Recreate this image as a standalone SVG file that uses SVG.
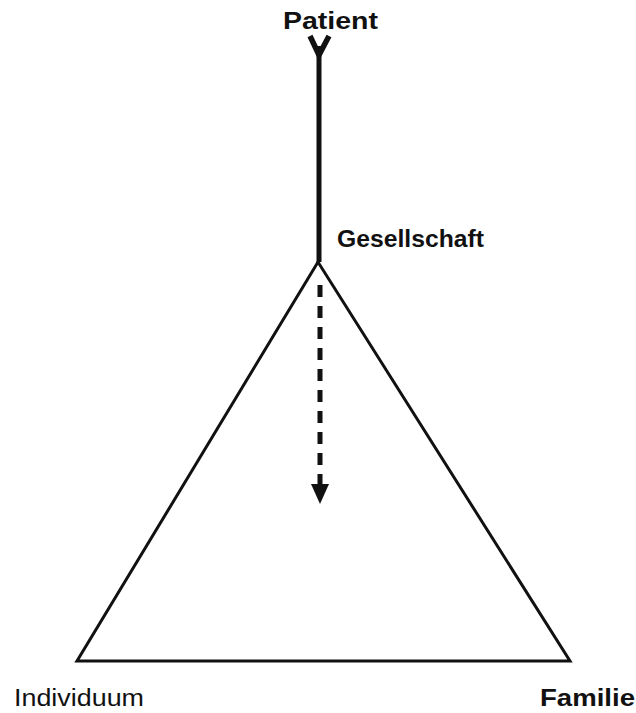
<svg xmlns="http://www.w3.org/2000/svg" width="636" height="713" viewBox="0 0 636 713">
<style>
.lbl{font-family:"Liberation Sans","DejaVu Sans",sans-serif;font-weight:bold;font-size:23px;fill:#111}
.edge{stroke:#111;fill:none}
</style>
<defs>
<marker id="ah" markerWidth="4" markerHeight="4" refX="2" refY="2" orient="auto" markerUnits="strokeWidth">
<path d="M0,0.2 L4,2 L0,3.8 Z" fill="#111"/>
</marker>
</defs>
<rect width="636" height="713" fill="#fff"/>
<g id="connectors">
<path class="edge" d="M319,46 L319,262" stroke-width="5"/>
<path class="edge" d="M310,36 L319,55 L329,36" stroke-width="5.5" stroke-linejoin="miter"/>
<path class="edge" d="M320,285 L320,494" stroke-width="5" stroke-dasharray="12,9" marker-end="url(#ah)"/>
</g>
<g id="triangle">
<path class="edge" d="M318,262 L77,661 L570,661 Z" stroke-width="3" stroke-linejoin="miter"/>
</g>
<g id="patient"><text class="lbl" x="283" y="29" textLength="95" lengthAdjust="spacingAndGlyphs">Patient</text></g>
<g id="gesellschaft"><text class="lbl" x="337" y="247" textLength="147" lengthAdjust="spacingAndGlyphs">Gesellschaft</text></g>
<g id="individuum"><text class="lbl" x="14" y="706" textLength="130" lengthAdjust="spacingAndGlyphs" style="font-weight:normal">Individuum</text></g>
<g id="familie"><text class="lbl" x="540" y="706" textLength="95" lengthAdjust="spacingAndGlyphs">Familie</text></g>
</svg>
